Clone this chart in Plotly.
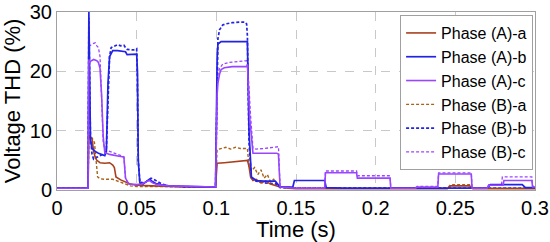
import plotly.graph_objects as go

## Time (s) and THD (%) for each phase
t_Aa = [0, 0.0195, 0.0200, 0.0205, 0.022, 0.023, 0.024, 0.025, 0.027, 0.030, 0.033, 0.035, 0.036, 0.037,
        0.040, 0.043, 0.046, 0.050, 0.055, 0.060, 0.070, 0.080, 0.090, 0.0995, 0.1005, 0.105, 0.110, 0.115,
        0.1195, 0.1205, 0.1215, 0.123, 0.125, 0.128, 0.131, 0.134, 0.137, 0.140, 0.145, 0.150, 0.200, 0.245,
        0.247, 0.259, 0.261, 0.270, 0.300]
y_Aa = [0.3, 0.3, 9.3, 9.0, 8.6, 6.5, 5.5, 5.0, 4.6, 4.5, 4.6, 4.2, 3.8, 2.2,
        1.7, 1.4, 1.0, 0.8, 0.7, 0.7, 0.6, 0.5, 0.5, 0.5, 4.5, 4.6, 4.7, 4.9,
        5.0, 4.0, 2.2, 1.6, 1.8, 1.2, 1.5, 1.0, 0.8, 0.5, 0.3, 0.2, 0.2, 0.2,
        0.7, 0.7, 0.2, 0.2, 0.2]

t_Ab = [0, 0.0195, 0.0200, 0.0205, 0.021, 0.022, 0.024, 0.026, 0.028, 0.030, 0.031, 0.032, 0.033, 0.035,
        0.038, 0.041, 0.043, 0.044, 0.048, 0.050, 0.0505, 0.051, 0.052, 0.054, 0.056, 0.058, 0.060, 0.062,
        0.065, 0.070, 0.080, 0.090, 0.0995, 0.1005, 0.101, 0.103, 0.110, 0.119, 0.1195, 0.1205, 0.122,
        0.125, 0.130, 0.137, 0.138, 0.140, 0.148, 0.149, 0.168, 0.169, 0.180, 0.200, 0.230, 0.240, 0.270,
        0.272, 0.292, 0.294, 0.300]
y_Ab = [0.3, 0.3, 30, 15, 8.5, 7, 6.5, 6.2, 6.0, 5.8, 6.5, 18, 22.5, 23.5,
        23.5, 23.4, 23.3, 22.8, 22.8, 22.9, 20, 5, 1.2, 1.0, 1.4, 1.8, 1.4, 1.1,
        0.9, 0.7, 0.6, 0.5, 0.5, 22, 24.6, 25.0, 25.0, 25.0, 25.0, 10, 2.2,
        1.6, 1.5, 1.5, 1.2, 0.5, 0.5, 1.6, 1.6, 0.4, 0.3, 0.3, 0.3, 0.3, 0.3,
        0.9, 0.9, 0.4, 0.4]

t_Ac = [0, 0.0195, 0.0200, 0.0205, 0.021, 0.023, 0.025, 0.026, 0.027, 0.028, 0.029, 0.030, 0.033, 0.036,
        0.039, 0.041, 0.042, 0.043, 0.045, 0.050, 0.053, 0.056, 0.058, 0.060, 0.063, 0.070, 0.080, 0.090,
        0.0995, 0.1005, 0.101, 0.102, 0.103, 0.105, 0.110, 0.115, 0.119, 0.1195, 0.1205, 0.121, 0.123,
        0.130, 0.138, 0.139, 0.140, 0.150, 0.168, 0.1685, 0.188, 0.1885, 0.209, 0.2095, 0.225, 0.226,
        0.238, 0.239, 0.2395, 0.260, 0.2605, 0.270, 0.271, 0.280, 0.2805, 0.298, 0.2985, 0.300]
y_Ac = [0.3, 0.3, 22, 21.5, 21.7, 22.0, 21.8, 21.5, 20.5, 16, 9, 6.3, 6.0, 5.8,
        5.7, 5.6, 5.5, 2, 1.0, 0.9, 1.0, 1.4, 1.6, 1.2, 0.9, 0.7, 0.6, 0.5,
        0.5, 16, 18, 19.5, 20.3, 20.6, 20.8, 20.8, 20.8, 21.2, 15, 12, 6.2,
        6.2, 6.2, 6.0, 0.5, 0.3, 0.3, 2.9, 2.9, 2.0, 2.0, 0.3, 0.3, 0.5,
        0.5, 0.5, 2.7, 2.7, 0.3, 0.3, 0.8, 0.8, 1.6, 1.6, 0.5, 0.5]

t_Ba = [0, 0.0195, 0.0200, 0.022, 0.0235, 0.0245, 0.0255, 0.027, 0.030, 0.035, 0.038, 0.040, 0.043, 0.046,
        0.050, 0.060, 0.080, 0.0995, 0.1005, 0.103, 0.106, 0.109, 0.112, 0.115, 0.118, 0.1195, 0.1205,
        0.122, 0.124, 0.126, 0.128, 0.130, 0.132, 0.134, 0.136, 0.138, 0.140, 0.145, 0.150, 0.245, 0.247,
        0.259, 0.261, 0.300]
y_Ba = [0.3, 0.3, 9.0, 8.8, 8.0, 5.0, 2.2, 1.9, 1.8, 1.8, 1.5, 1.2, 0.9, 0.7,
        0.6, 0.6, 0.5, 0.5, 6.8, 7.0, 7.2, 6.9, 7.2, 7.0, 7.0, 7.0, 4.0,
        3.2, 3.8, 2.6, 3.4, 2.0, 2.6, 1.4, 1.8, 0.9, 0.6, 0.4, 0.3, 0.3, 0.9,
        0.9, 0.3, 0.3]

t_Bb = [0, 0.0195, 0.0200, 0.0205, 0.021, 0.022, 0.023, 0.025, 0.027, 0.029, 0.030, 0.031, 0.032, 0.033,
        0.034, 0.036, 0.038, 0.040, 0.042, 0.043, 0.044, 0.048, 0.050, 0.0505, 0.051, 0.052, 0.055, 0.057,
        0.059, 0.062, 0.066, 0.070, 0.080, 0.0995, 0.1005, 0.101, 0.102, 0.104, 0.106, 0.110, 0.115, 0.118,
        0.119, 0.1195, 0.1205, 0.122, 0.125, 0.130, 0.138, 0.140, 0.150, 0.300]
y_Bb = [0.3, 0.3, 29, 14, 9, 6.0, 5.2, 5.5, 5.8, 6.0, 6.2, 7, 17, 22.5,
        24.0, 24.2, 24.5, 24.3, 24.4, 24.0, 23.7, 23.6, 23.8, 18, 5, 1.3, 1.2, 1.6,
        2.0, 1.6, 1.0, 0.7, 0.5, 0.5, 20, 25.5, 27.0, 27.8, 28.0, 28.2, 28.3, 28.3,
        28.0, 26, 8, 2.0, 1.5, 1.2, 1.0, 0.4, 0.3, 0.3]

t_Bc = [0, 0.0195, 0.0200, 0.0205, 0.022, 0.024, 0.025, 0.026, 0.027, 0.028, 0.029, 0.030, 0.033, 0.036,
        0.039, 0.041, 0.042, 0.043, 0.045, 0.050, 0.055, 0.058, 0.061, 0.065, 0.070, 0.080, 0.0995, 0.1005,
        0.101, 0.102, 0.104, 0.108, 0.112, 0.116, 0.119, 0.1195, 0.1205, 0.1215, 0.123, 0.125, 0.130, 0.135,
        0.138, 0.139, 0.140, 0.150, 0.168, 0.1685, 0.188, 0.1885, 0.209, 0.2095, 0.225, 0.226, 0.238, 0.239,
        0.2395, 0.260, 0.2605, 0.270, 0.271, 0.279, 0.2795, 0.298, 0.2985, 0.300]
y_Bc = [0.3, 0.3, 24.5, 24.3, 24.6, 24.8, 24.3, 24.0, 22.5, 14, 8, 6.8, 6.5, 6.3,
        6.0, 5.8, 5.6, 2, 1.0, 0.9, 1.2, 1.8, 1.3, 0.9, 0.7, 0.6, 0.5, 18,
        19.5, 20.5, 21.2, 21.5, 21.6, 21.6, 21.8, 22, 16, 12.5, 7.0, 6.9, 7.0, 7.1,
        7.2, 7.3, 0.6, 0.4, 0.4, 3.2, 3.2, 2.4, 2.4, 0.4, 0.4, 0.6, 0.6, 0.6,
        2.9, 2.9, 0.4, 0.4, 0.9, 0.9, 2.2, 2.2, 0.6, 0.6]

names = ['Phase (A)-a', 'Phase (A)-b', 'Phase (A)-c', 'Phase (B)-a', 'Phase (B)-b', 'Phase (B)-c']
x_ticks = [0, 0.05, 0.1, 0.15, 0.2, 0.25, 0.3]
x_labels = ['0', '0.05', '0.1', '0.15', '0.2', '0.25', '0.3']
y_ticks = [0, 10, 20, 30]

series = [(t_Aa, y_Aa), (t_Ab, y_Ab), (t_Ac, y_Ac), (t_Ba, y_Ba), (t_Bb, y_Bb), (t_Bc, y_Bc)]
colors = ['#a8401e', '#2323e6', '#9a46ff', '#a8621a', '#2323e6', '#9a46ff']
dashes = ['solid', 'solid', 'solid', '3px,2px', '3px,2px', '3px,2px']
widths = [1.6, 1.7, 1.6, 1.4, 1.7, 1.3]

fig = go.Figure()
# draw B first so A lines sit on top
order = [3, 4, 5, 0, 1, 2]
for i in order:
    t, y = series[i]
    fig.add_trace(go.Scatter(x=t, y=y, mode='lines', name=names[i],
                             line=dict(color=colors[i], dash=dashes[i], width=widths[i]),
                             legendrank=i + 1))

fig.update_xaxes(range=[0, 0.3], tickvals=x_ticks, ticktext=x_labels, automargin=False,
                 showgrid=True, gridcolor='#c8c8c8', griddash='dash', gridwidth=1,
                 showline=True, linecolor='#a0a0a0', linewidth=1, mirror=True,
                 zeroline=False, ticks='',
                 tickfont=dict(size=20, color='black'),
                 title=dict(text='Time (s)', font=dict(size=22, color='black')))
fig.update_yaxes(range=[0, 30], tickvals=y_ticks, automargin=False,
                 showgrid=True, gridcolor='#c8c8c8', griddash='dash', gridwidth=1,
                 showline=True, linecolor='#a0a0a0', linewidth=1, mirror=True,
                 zeroline=False, ticks='',
                 tickfont=dict(size=20, color='black'),
                 title=dict(text='Voltage THD (%)', font=dict(size=22, color='black')))
fig.update_layout(width=550, height=242, autosize=False,
                  margin=dict(l=57, r=15, t=12, b=52),
                  plot_bgcolor='white', paper_bgcolor='white',
                  font=dict(family='Liberation Sans, Arial, sans-serif', color='black'),
                  legend=dict(x=0.996, y=0.983, xanchor='right', yanchor='top',
                              bgcolor='white', bordercolor='#a0a0a0', borderwidth=1,
                              font=dict(size=16), itemwidth=30, tracegroupgap=0,
                              traceorder='normal'),
                  showlegend=True)

# drop the page's default body margin so the figure sits at the window corner
fig.write_html('out.html', config={'displayModeBar': False},
               post_script="document.body.style.margin='0';")
